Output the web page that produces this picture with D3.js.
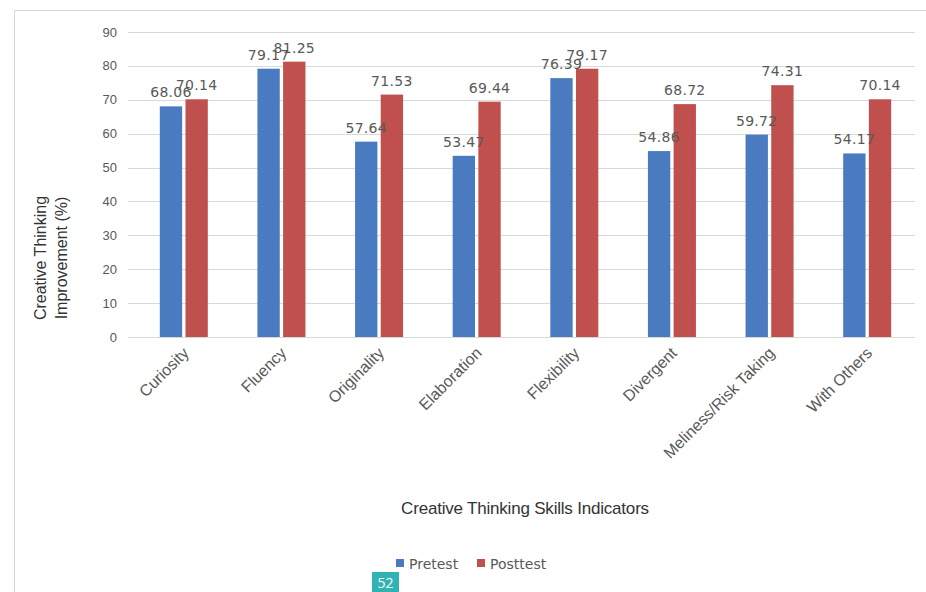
<!DOCTYPE html>
<html>
<head>
<meta charset="utf-8">
<script src="https://cdn.jsdelivr.net/npm/d3@7"></script>
<style>
  body { margin: 0; background: #fff; }
  svg { display: block; }
</style>
</head>
<body>
<svg id="chart" width="926" height="592"></svg>
<script>
// chart data
const categories = ["Curiosity", "Fluency", "Originality", "Elaboration", "Flexibility",
                    "Divergent", "Meliness/Risk Taking", "With Others"];
const seriesNames = ["Pretest", "Posttest"];
const pretest = [68.06, 79.17, 57.64, 53.47, 76.39, 54.86, 59.72, 54.17];
const posttest = [70.14, 81.25, 71.53, 69.44, 79.17, 68.72, 74.31, 70.14];
const yTicks = [0, 10, 20, 30, 40, 50, 60, 70, 80, 90];

const colors = { Pretest: "#4a7bc0", Posttest: "#c0504d" };
const FONT = "'Liberation Sans Narrow', 'Liberation Sans', Arial, sans-serif";
const GREY = "#595959";

const svg = d3.select("#chart");

// frame around the figure
svg.append("path")
    .attr("d", "M14.5,592 V10.5 H926")
    .attr("fill", "none")
    .attr("stroke", "#d6d6d6");

const x = d3.scaleBand().domain(categories).range([135, 916]);
const inner = d3.scaleBand().domain(seriesNames).range([0, 48]).paddingInner(0.13);
const y = d3.scaleLinear().domain([0, 90]).range([337, 32]);
const gridLeft = 128, gridRight = 915;

// gridlines
svg.append("g")
    .selectAll("line")
    .data(yTicks)
    .join("line")
    .attr("x1", gridLeft)
    .attr("x2", gridRight)
    .attr("y1", d => Math.round(y(d)) + 0.5)
    .attr("y2", d => Math.round(y(d)) + 0.5)
    .attr("stroke", "#d9d9d9");

// y tick labels
svg.append("g")
    .selectAll("text")
    .data(yTicks)
    .join("text")
    .attr("x", 117)
    .attr("y", d => y(d) + 4.5)
    .attr("text-anchor", "end")
    .attr("font-family", FONT)
    .attr("font-size", 13)
    .attr("fill", GREY)
    .text(d => d);

// bars, grouped per category
const rows = categories.map((c, i) => ({
    cat: c,
    vals: [{ s: "Pretest", v: pretest[i] }, { s: "Posttest", v: posttest[i] }]
}));
const groupOffset = (x.bandwidth() - 48) / 2;

const groups = svg.append("g")
    .selectAll("g")
    .data(rows)
    .join("g")
    .attr("transform", d => `translate(${x(d.cat) + groupOffset},0)`);

groups.selectAll("rect")
    .data(d => d.vals)
    .join("rect")
    .attr("x", d => inner(d.s))
    .attr("width", inner.bandwidth())
    .attr("y", d => y(d.v))
    .attr("height", d => y(0) - y(d.v))
    .attr("fill", d => colors[d.s]);

// value labels
groups.selectAll("text")
    .data(d => d.vals)
    .join("text")
    .attr("x", d => inner(d.s) + inner.bandwidth() / 2)
    .attr("y", d => y(d.v) - 9)
    .attr("text-anchor", "middle")
    .attr("font-family", "'DejaVu Sans', sans-serif")
    .attr("font-size", 14)
    .attr("letter-spacing", 0.3)
    .attr("fill", GREY)
    .text(d => d.v.toFixed(2));

// category labels rotated
svg.append("g")
    .selectAll("text")
    .data(categories)
    .join("text")
    .attr("transform", d => `translate(${x(d) + x.bandwidth() / 2 + 6},354) rotate(-45)`)
    .attr("text-anchor", "end")
    .attr("font-family", FONT)
    .attr("font-size", 16)
    .attr("fill", GREY)
    .text(d => d);

// axis titles
svg.append("text")
    .attr("x", 525)
    .attr("y", 514)
    .attr("text-anchor", "middle")
    .attr("font-family", FONT)
    .attr("font-size", 17)
    .attr("letter-spacing", -0.2)
    .attr("fill", "#333")
    .text("Creative Thinking Skills Indicators");

const yTitle = svg.append("text")
    .attr("transform", "translate(46,258) rotate(-90)")
    .attr("text-anchor", "middle")
    .attr("font-family", FONT)
    .attr("font-size", 16)
    .attr("fill", "#333");
yTitle.append("tspan").attr("x", 0).attr("dy", 0).text("Creative Thinking");
yTitle.append("tspan").attr("x", 0).attr("dy", 21).text("Improvement (%)");

// legend
const legend = svg.append("g").attr("transform", "translate(396,564)");
const legendX = [0, 81];
seriesNames.forEach((s, i) => {
    const g = legend.append("g").attr("transform", `translate(${legendX[i]},0)`);
    g.append("rect").attr("x", 0).attr("y", -5).attr("width", 8).attr("height", 8).attr("fill", colors[s]);
    g.append("text")
        .attr("x", 13)
        .attr("y", 4.5)
        .attr("font-family", "'DejaVu Sans', sans-serif")
        .attr("font-size", 14)
        .attr("fill", GREY)
        .text(s);
});

// page number badge
svg.append("rect").attr("x", 372).attr("y", 572).attr("width", 27).attr("height", 20).attr("fill", "#2fb3b3");
svg.append("text")
    .attr("x", 385.5).attr("y", 588)
    .attr("text-anchor", "middle")
    .attr("font-family", "'Open Sans', sans-serif")
    .attr("font-size", 14)
    .attr("fill", "#fff")
    .text("52");
</script>
</body>
</html>
